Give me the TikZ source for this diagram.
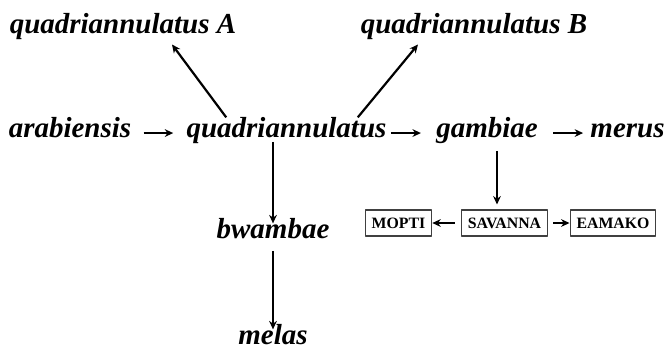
\documentclass[tikz,border=0pt]{standalone}
\usepackage{fontspec}
\setmainfont{Liberation Serif}
\usetikzlibrary{arrows.meta}

\tikzset{
  species/.style={font=\fontsize{16.5}{18}\selectfont\bfseries\itshape, inner sep=0pt, text height=0.7em, text depth=0.25em, anchor=base},
  form/.style={draw=black!75, line width=0.6pt, font=\fontsize{9}{10}\selectfont\bfseries, inner xsep=0.13cm, inner ysep=0pt, minimum height=0.52cm},
  link/.style={->, line width=1.25pt},
  sublink/.style={->, line width=0.7pt}
}

\begin{document}
\begin{tikzpicture}[>={Stealth[length=4.8pt,width=4.4pt]}, line join=round]
\useasboundingbox (0,0) rectangle (13.36,7);
% species
\node[species] (qa) at (2.46,6.34) {quadriannulatus A};
\node[species] (qb) at (9.48,6.34) {quadriannulatus B};
\node[species] (arab) at (1.40,4.26) {arabiensis};
\node[species] (quad) at (5.73,4.26) {quadriannulatus};
\node[species] (gamb) at (9.74,4.26) {gambiae};
\node[species] (merus) at (12.55,4.26) {merus};
\node[species] (bwam) at (5.46,2.24) {bwambae};
\node[species] (melas) at (5.46,0.12) {melas};
% chromosomal forms
\node[form] (sav) at (10.09,2.54) {SAVANNA};
\node[form] (mop) at (7.97,2.54) {MOPTI};
\node[form] (bam) at (12.26,2.54) {EAMAKO};

\draw[link, shorten <=0.24cm, shorten >=0.26cm] (arab.east) -- (quad.west);
\draw[link, shorten <=0.08cm, shorten >=0.30cm] (quad.east) -- (gamb.west);
\draw[link, shorten <=0.30cm, shorten >=0.14cm] (gamb.east) -- (merus.west);
\draw[link] ([shift={(0.80,0.14)}]quad.north west) -- ([shift={(0.98,-0.135)}]qa.south);
\draw[link] ([shift={(-0.58,0.14)}]quad.north east) -- ([shift={(-1.12,-0.135)}]qb.south);
\draw[link, shorten >=0.04cm] (quad.south -| bwam.north) -- (bwam.north);
\draw[link, shorten <=0.16cm, shorten >=0.04cm] (bwam.south) -- (melas.north);

\draw[sublink, shorten <=0.18cm, shorten >=0.10cm] ([xshift=-0.15cm]sav.north |- gamb.south) -- ([xshift=-0.15cm]sav.north);
\draw[sublink, shorten <=0.12cm] (sav.west) -- (mop.east);
\draw[sublink, shorten <=0.10cm] (sav.east) -- (bam.west);
\end{tikzpicture}
\end{document}
